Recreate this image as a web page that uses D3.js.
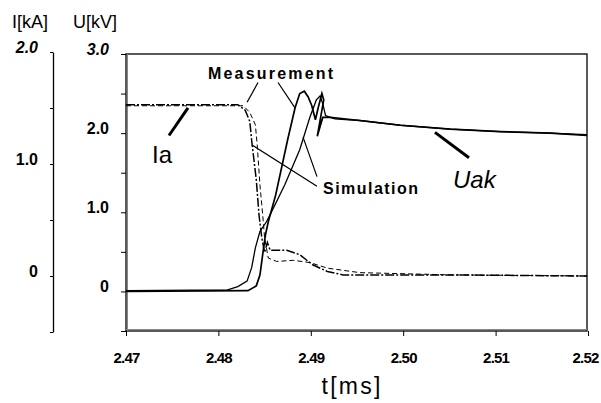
<!DOCTYPE html>
<html>
<head>
<meta charset="utf-8">
<script src="https://cdn.jsdelivr.net/npm/d3@7"></script>
<style>
  body { margin: 0; background: #fff; }
  svg { font-family: Arial, "Liberation Sans", sans-serif; }
</style>
</head>
<body>
<div class="chart"></div>
<script>
// time axis ticks [ms]
var timeTicks = [2.47, 2.48, 2.49, 2.50, 2.51, 2.52];
var uTicks = [-0.5, 0, 0.5, 1.0, 1.5, 2.0, 2.5, 3.0];
var iTicks = [-0.5, 0, 0.5, 1.0, 1.5, 2.0];

// anode current Ia [kA]
var iaMeasT = [2.4700, 2.4821, 2.4829, 2.4834, 2.4836, 2.4841, 2.4844, 2.4847, 2.4850, 2.4853, 2.4856, 2.4874, 2.4888, 2.4902, 2.4918, 2.4935, 2.5051, 2.5199];
var iaMeasV = [1.53, 1.53, 1.48, 1.38, 1.21, 0.86, 0.54, 0.34, 0.21, 0.30, 0.23, 0.23, 0.19, 0.10, 0.04, 0.01, 0.01, 0.00];
var iaSimT = [2.4700, 2.4827, 2.4834, 2.4840, 2.4842, 2.4845, 2.4848, 2.4850, 2.4854, 2.4863, 2.4881, 2.4899, 2.4918, 2.4953, 2.5051, 2.5199];
var iaSimV = [1.52, 1.52, 1.46, 1.35, 1.17, 0.81, 0.54, 0.34, 0.16, 0.13, 0.14, 0.12, 0.07, 0.03, 0.01, 0.00];

// anode-cathode voltage Uak [kV]
var uMeasT = [2.4700, 2.4832, 2.4841, 2.4845, 2.4848, 2.4851, 2.4854, 2.4862, 2.4875, 2.4883, 2.4888, 2.4893, 2.4897, 2.4901, 2.4905, 2.4908, 2.4912, 2.4914, 2.4907, 2.4913, 2.4921, 2.4953, 2.4997, 2.5051, 2.5105, 2.5159, 2.5199];
var uMeasV = [0.00, 0.01, 0.07, 0.21, 0.47, 0.72, 0.88, 1.22, 1.92, 2.32, 2.50, 2.53, 2.46, 2.35, 2.17, 2.32, 2.50, 2.42, 1.96, 2.20, 2.20, 2.16, 2.10, 2.05, 2.02, 2.00, 1.97];
var uSimT = [2.4700, 2.4810, 2.4821, 2.4831, 2.4836, 2.4840, 2.4845, 2.4852, 2.4856, 2.4872, 2.4888, 2.4899, 2.4906, 2.4910, 2.4913, 2.4916, 2.4926, 2.4953, 2.4997, 2.5051, 2.5105, 2.5159, 2.5199];
var uSimV = [0.01, 0.02, 0.06, 0.13, 0.30, 0.55, 0.76, 0.88, 0.97, 1.35, 1.79, 2.20, 2.42, 2.47, 2.37, 2.22, 2.18, 2.16, 2.10, 2.05, 2.02, 2.00, 1.98];

// leader lines for the annotations, in [t, U] units
var leaders = [
  {from: [2.48429, 2.64], to: [2.48310, 2.39], w: 1.2},   // Measurement -> Ia
  {from: [2.48645, 2.64], to: [2.48829, 2.32], w: 1.2},   // Measurement -> Uak
  {from: [2.49067, 1.33], to: [2.48364, 1.85], w: 1.2},   // Simulation -> Ia
  {from: [2.49067, 1.45], to: [2.48916, 1.95], w: 1.2},   // Simulation -> Uak
  {from: [2.47465, 1.97], to: [2.47671, 2.32], w: 3},     // Ia label
  {from: [2.50344, 2.01], to: [2.50712, 1.69], w: 3}      // Uak label
];

var width = 601, height = 403;
var plot = {left: 126, right: 587, top: 54, bottom: 331};

var svg = d3.select('.chart').append('svg')
  .attr('width', width)
  .attr('height', height);

var x = d3.scaleLinear().domain([2.47, 2.52]).range([plot.left, 588]);
var yU = d3.scaleLinear().domain([-0.5, 3.0]).range([plot.bottom, plot.top]);
var yI = d3.scaleLinear().domain([-0.5, 2.0]).range([332, 52]);

// frame
svg.append('rect')
  .attr('x', plot.left).attr('y', plot.top)
  .attr('width', plot.right - plot.left).attr('height', plot.bottom - plot.top)
  .attr('fill', 'none').attr('stroke', '#000').attr('stroke-width', 1.3);
svg.append('line')
  .attr('x1', plot.left + 1.5).attr('x2', plot.left + 1.5)
  .attr('y1', plot.top).attr('y2', plot.bottom)
  .attr('stroke', '#888').attr('stroke-width', 1);
svg.append('line')
  .attr('x1', plot.left).attr('x2', plot.right)
  .attr('y1', plot.bottom - 1.5).attr('y2', plot.bottom - 1.5)
  .attr('stroke', '#888').attr('stroke-width', 1);

// x axis
var xAxis = d3.axisBottom(x).tickValues(timeTicks).tickSize(5).tickSizeOuter(0)
  .tickFormat(d3.format('.2f'));
var gx = svg.append('g').attr('class', 'x axis')
  .attr('transform', `translate(0,${plot.bottom})`)
  .call(xAxis);
gx.select('.domain').remove();
gx.selectAll('text')
  .attr('y', 21)
  .style('font-size', '15px').style('font-weight', 'bold')
  .style('letter-spacing', '-0.8px').attr('fill', '#000');
gx.selectAll('.tick').filter(d => d === 2.52).select('text')
  .attr('text-anchor', 'end').attr('dx', 10);

// U axis (on the frame)
var uAxis = d3.axisLeft(yU).tickValues(uTicks).tickSize(5).tickSizeOuter(0)
  .tickFormat(d => d === 0 ? '0' : (d % 1 === 0 && d > 0 ? d3.format('.1f')(d) : ''));
var gu = svg.append('g').attr('class', 'u axis')
  .attr('transform', `translate(${plot.left},0)`)
  .call(uAxis);
gu.select('.domain').remove();
gu.selectAll('text')
  .attr('x', -17).attr('dy', '0.0em')
  .style('font-size', '16px').style('font-weight', 'bold').attr('fill', '#000')
  .style('font-style', d => d === 3.0 ? 'italic' : 'normal');

// I axis (separate line)
var iAxis = d3.axisLeft(yI).tickValues(iTicks).tickSize(3).tickSizeOuter(0)
  .tickFormat(d => d === 0 ? '0' : (d % 1 === 0 && d > 0 ? d3.format('.1f')(d) : ''));
var gi = svg.append('g').attr('class', 'i axis')
  .attr('transform', 'translate(53,0)')
  .call(iAxis);
gi.select('.domain').attr('stroke-width', 1.3);
gi.selectAll('text')
  .attr('x', -15).attr('dy', '0.0em')
  .style('font-size', '16px').style('font-weight', 'bold').attr('fill', '#000')
  .style('font-style', d => d === 2.0 ? 'italic' : 'normal');

// curves
var lineU = d3.line().x(d => x(d[0])).y(d => yU(d[1]));
var lineI = d3.line().x(d => x(d[0])).y(d => yI(d[1]));

function pairs(t, v) { return t.map((d, i) => [d, v[i]]); }

svg.append('path')
  .datum(pairs(iaSimT, iaSimV))
  .attr('d', lineI)
  .attr('fill', 'none').attr('stroke', '#000').attr('stroke-width', 1)
  .attr('stroke-dasharray', '5,3');
svg.append('path')
  .datum(pairs(iaMeasT, iaMeasV))
  .attr('d', lineI)
  .attr('fill', 'none').attr('stroke', '#000').attr('stroke-width', 1.5)
  .attr('stroke-dasharray', '9,2,2,2');

svg.append('path')
  .datum(pairs(uSimT, uSimV))
  .attr('d', lineU)
  .attr('fill', 'none').attr('stroke', '#000').attr('stroke-width', 1.3);
svg.append('path')
  .datum(pairs(uMeasT, uMeasV))
  .attr('d', lineU)
  .attr('fill', 'none').attr('stroke', '#000').attr('stroke-width', 1.7);

// annotation leaders
svg.selectAll('.leader')
  .data(leaders)
  .enter().append('line')
  .attr('class', 'leader')
  .attr('x1', d => x(d.from[0])).attr('y1', d => yU(d.from[1]))
  .attr('x2', d => x(d.to[0])).attr('y2', d => yU(d.to[1]))
  .attr('stroke', '#000').attr('stroke-width', d => d.w);

// texts
svg.append('text').attr('x', 12).attr('y', 28)
  .style('font-size', '18px').text('I[kA]');
svg.append('text').attr('x', 73).attr('y', 28)
  .style('font-size', '18px').text('U[kV]');

svg.append('text').attr('x', 208).attr('y', 79)
  .attr('textLength', 125).attr('lengthAdjust', 'spacing')
  .style('font-size', '16px').style('font-weight', 'bold').text('Measurement');
svg.append('text').attr('x', 323).attr('y', 194)
  .attr('textLength', 95).attr('lengthAdjust', 'spacing')
  .style('font-size', '16px').style('font-weight', 'bold').text('Simulation');

svg.append('text').attr('x', 152).attr('y', 163)
  .style('font-size', '24px').text('Ia');
svg.append('text').attr('x', 453).attr('y', 188)
  .style('font-size', '24px').style('font-style', 'italic').text('Uak');

svg.append('text').attr('x', 351).attr('y', 394)
  .attr('text-anchor', 'middle')
  .attr('textLength', 59).attr('lengthAdjust', 'spacing')
  .style('font-size', '23px').text('t[ms]');
</script>
</body>
</html>
